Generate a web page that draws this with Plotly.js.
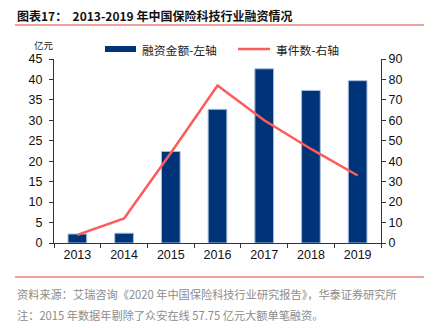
<!DOCTYPE html>
<html><head><meta charset="utf-8">
<script src="https://cdn.plot.ly/plotly-3.0.1.min.js"></script>
<style>html,body{margin:0;padding:0;background:#fff}#c{width:436px;height:328px}</style>
</head><body><div id="c"></div>
<script>
const years = ['2013','2014','2015','2016','2017','2018','2019'];
const funding = [2.2, 2.4, 22.4, 32.7, 42.6, 37.3, 39.7];
const events = [4, 12, 44, 77, 60, 46, 33];
const leftTicks = [0,5,10,15,20,25,30,35,40,45];
const rightTicks = [0,10,20,30,40,50,60,70,80,90];
const barName = '融资金额-左轴';
const lineName = '事件数-右轴';
const titleText = '图表17：  2013-2019 年中国保险科技行业融资情况';
const sourceText = '资料来源：艾瑞咨询《2020 年中国保险科技行业研究报告》，华泰证券研究所';
const noteText = '注：2015 年数据年剔除了众安在线 57.75 亿元大额单笔融资。';

const navy = 'rgb(0,52,120)';
const red = 'rgb(255,90,90)';
const cjk = '"Noto Sans CJK SC", "Liberation Sans", sans-serif';
const lat = '"Liberation Sans", Arial, sans-serif';

const traces = [
  {type:'bar', x:years, y:funding, name:barName, width:0.4,
   marker:{color:navy, line:{color:'rgb(165,190,220)', width:1}}, yaxis:'y', showlegend:false, hoverinfo:'none'},
  {type:'scatter', mode:'lines', x:years, y:events, name:lineName, yaxis:'y2',
   line:{color:red, width:2.5}, showlegend:false, hoverinfo:'none'}
];

const W=436, H=328, L=54, R=381, T=59, B=243;
function px(x){return (x-L)/(R-L);}
function py(y){return (B-y)/(B-T);}

const layout = {
  width:W, height:H,
  margin:{l:L, r:W-R, t:T, b:H-B},
  paper_bgcolor:'#fff', plot_bgcolor:'#fff',
  font:{family:lat, size:12, color:'#111'},
  bargap:0.6,
  xaxis:{type:'category', range:[-0.5,6.5], tickson:'boundaries', ticks:'outside', ticklen:4,
    tickcolor:'#333', showline:true, linecolor:'#333', linewidth:1, showgrid:false, zeroline:false,
    tickfont:{family:lat, size:12.5, color:'#111'}, fixedrange:true},
  yaxis:{range:[0,45], tickvals:leftTicks, ticks:'outside', ticklen:4, tickcolor:'#333',
    showline:true, linecolor:'#333', linewidth:1, showgrid:false, zeroline:false,
    tickfont:{family:lat, size:12.5, color:'#111'}, ticklabelstandoff:4},
  yaxis2:{range:[0,90], tickvals:rightTicks, overlaying:'y', side:'right', ticks:'outside', ticklen:4,
    tickcolor:'#333', showline:true, linecolor:'#333', linewidth:1, showgrid:false, zeroline:false,
    tickfont:{family:lat, size:12.5, color:'#111'}},
  shapes:[
    {type:'line', xref:'paper', yref:'paper', x0:px(15), x1:px(424), y0:py(25), y1:py(25), line:{color:'rgb(220,70,60)', width:1}},
    {type:'line', xref:'paper', yref:'paper', x0:px(15), x1:px(424), y0:py(277), y1:py(277), line:{color:'rgb(220,70,60)', width:1}},
    {type:'rect', xref:'paper', yref:'paper', x0:px(105), x1:px(136), y0:py(52), y1:py(46), fillcolor:navy, line:{width:0}},
    {type:'line', xref:'paper', yref:'paper', x0:px(238), x1:px(270), y0:py(49), y1:py(49), line:{color:red, width:2.5}}
  ],
  annotations:[
    {xref:'paper', yref:'paper', x:px(15), y:py(15), xanchor:'left', yanchor:'middle', showarrow:false,
     text:'<b>'+titleText+'</b>', font:{family:cjk, size:12, color:'#111'}},
    {xref:'paper', yref:'paper', x:px(32), y:py(45), xanchor:'left', yanchor:'middle', showarrow:false,
     text:'亿元', font:{family:cjk, size:9.5, color:'#222'}},
    {xref:'paper', yref:'paper', x:px(140), y:py(49), xanchor:'left', yanchor:'middle', showarrow:false,
     text:barName, font:{family:cjk, size:11.8, color:'#222'}},
    {xref:'paper', yref:'paper', x:px(274), y:py(49), xanchor:'left', yanchor:'middle', showarrow:false,
     text:lineName, font:{family:cjk, size:11.8, color:'#222'}},
    {xref:'paper', yref:'paper', x:px(15), y:py(294), xanchor:'left', yanchor:'middle', showarrow:false,
     text:sourceText, font:{family:cjk, size:11.2, color:'#8c8c8c'}},
    {xref:'paper', yref:'paper', x:px(15), y:py(315), xanchor:'left', yanchor:'middle', showarrow:false,
     text:noteText, font:{family:cjk, size:11.2, color:'#8c8c8c'}}
  ]
};
Plotly.newPlot('c', traces, layout, {staticPlot:true, displayModeBar:false});
</script>
</body></html>
